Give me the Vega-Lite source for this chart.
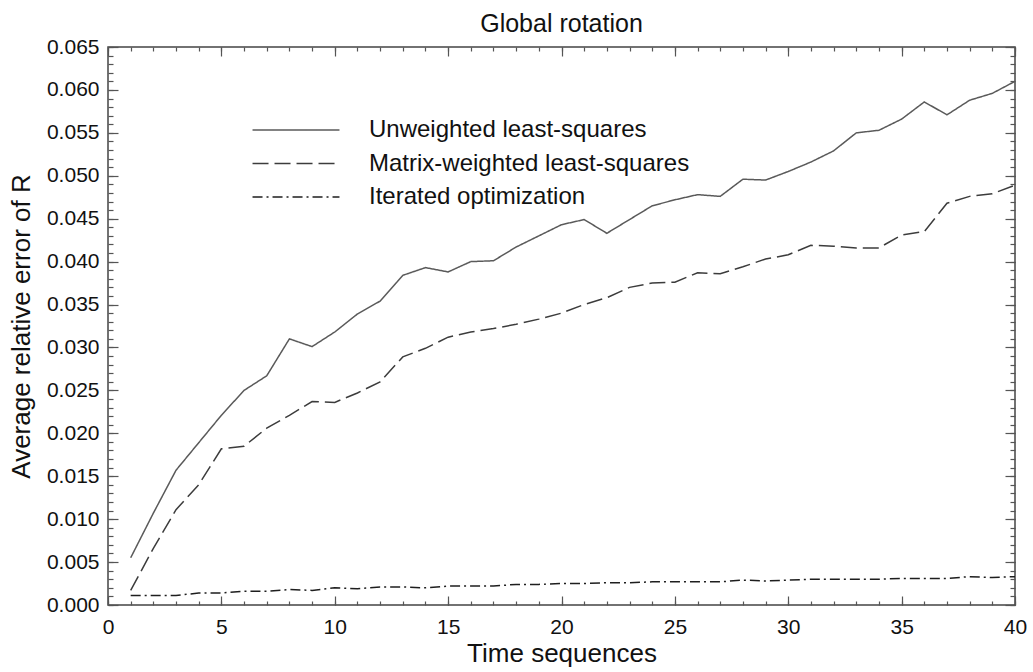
{
  "$schema": "https://vega.github.io/schema/vega-lite/v6.json",
  "autosize": {"type": "none"},
  "padding": {"left": 108, "top": 47, "right": 18, "bottom": 67},
  "width": 907,
  "height": 558,
  "background": "white",
  "title": {
    "text": "Global rotation",
    "font": "Liberation Sans",
    "fontSize": 25,
    "fontWeight": "normal",
    "color": "#111",
    "offset": -1
  },
  "data": {
    "values": [
      {"t": 1, "Unweighted least-squares": 0.0055, "Matrix-weighted least-squares": 0.0017, "Iterated optimization": 0.0011},
      {"t": 2, "Unweighted least-squares": 0.0107, "Matrix-weighted least-squares": 0.0066, "Iterated optimization": 0.0011},
      {"t": 3, "Unweighted least-squares": 0.0157, "Matrix-weighted least-squares": 0.0111, "Iterated optimization": 0.0011},
      {"t": 4, "Unweighted least-squares": 0.0189, "Matrix-weighted least-squares": 0.0140, "Iterated optimization": 0.0014},
      {"t": 5, "Unweighted least-squares": 0.0221, "Matrix-weighted least-squares": 0.0182, "Iterated optimization": 0.0014},
      {"t": 6, "Unweighted least-squares": 0.0250, "Matrix-weighted least-squares": 0.0185, "Iterated optimization": 0.0016},
      {"t": 7, "Unweighted least-squares": 0.0267, "Matrix-weighted least-squares": 0.0206, "Iterated optimization": 0.0016},
      {"t": 8, "Unweighted least-squares": 0.0310, "Matrix-weighted least-squares": 0.0221, "Iterated optimization": 0.0018},
      {"t": 9, "Unweighted least-squares": 0.0301, "Matrix-weighted least-squares": 0.0237, "Iterated optimization": 0.0017},
      {"t": 10, "Unweighted least-squares": 0.0318, "Matrix-weighted least-squares": 0.0236, "Iterated optimization": 0.0020},
      {"t": 11, "Unweighted least-squares": 0.0339, "Matrix-weighted least-squares": 0.0247, "Iterated optimization": 0.0019},
      {"t": 12, "Unweighted least-squares": 0.0354, "Matrix-weighted least-squares": 0.0260, "Iterated optimization": 0.0021},
      {"t": 13, "Unweighted least-squares": 0.0384, "Matrix-weighted least-squares": 0.0289, "Iterated optimization": 0.0021},
      {"t": 14, "Unweighted least-squares": 0.0393, "Matrix-weighted least-squares": 0.0299, "Iterated optimization": 0.0020},
      {"t": 15, "Unweighted least-squares": 0.0388, "Matrix-weighted least-squares": 0.0312, "Iterated optimization": 0.0022},
      {"t": 16, "Unweighted least-squares": 0.0400, "Matrix-weighted least-squares": 0.0318, "Iterated optimization": 0.0022},
      {"t": 17, "Unweighted least-squares": 0.0401, "Matrix-weighted least-squares": 0.0322, "Iterated optimization": 0.0022},
      {"t": 18, "Unweighted least-squares": 0.0417, "Matrix-weighted least-squares": 0.0327, "Iterated optimization": 0.0024},
      {"t": 19, "Unweighted least-squares": 0.0430, "Matrix-weighted least-squares": 0.0333, "Iterated optimization": 0.0024},
      {"t": 20, "Unweighted least-squares": 0.0443, "Matrix-weighted least-squares": 0.0340, "Iterated optimization": 0.0025},
      {"t": 21, "Unweighted least-squares": 0.0449, "Matrix-weighted least-squares": 0.0350, "Iterated optimization": 0.0025},
      {"t": 22, "Unweighted least-squares": 0.0433, "Matrix-weighted least-squares": 0.0358, "Iterated optimization": 0.0026},
      {"t": 23, "Unweighted least-squares": 0.0449, "Matrix-weighted least-squares": 0.0370, "Iterated optimization": 0.0026},
      {"t": 24, "Unweighted least-squares": 0.0465, "Matrix-weighted least-squares": 0.0375, "Iterated optimization": 0.0027},
      {"t": 25, "Unweighted least-squares": 0.0472, "Matrix-weighted least-squares": 0.0376, "Iterated optimization": 0.0027},
      {"t": 26, "Unweighted least-squares": 0.0478, "Matrix-weighted least-squares": 0.0387, "Iterated optimization": 0.0027},
      {"t": 27, "Unweighted least-squares": 0.0476, "Matrix-weighted least-squares": 0.0386, "Iterated optimization": 0.0027},
      {"t": 28, "Unweighted least-squares": 0.0496, "Matrix-weighted least-squares": 0.0394, "Iterated optimization": 0.0029},
      {"t": 29, "Unweighted least-squares": 0.0495, "Matrix-weighted least-squares": 0.0403, "Iterated optimization": 0.0028},
      {"t": 30, "Unweighted least-squares": 0.0505, "Matrix-weighted least-squares": 0.0408, "Iterated optimization": 0.0029},
      {"t": 31, "Unweighted least-squares": 0.0516, "Matrix-weighted least-squares": 0.0419, "Iterated optimization": 0.0030},
      {"t": 32, "Unweighted least-squares": 0.0529, "Matrix-weighted least-squares": 0.0418, "Iterated optimization": 0.0030},
      {"t": 33, "Unweighted least-squares": 0.0550, "Matrix-weighted least-squares": 0.0416, "Iterated optimization": 0.0030},
      {"t": 34, "Unweighted least-squares": 0.0553, "Matrix-weighted least-squares": 0.0416, "Iterated optimization": 0.0030},
      {"t": 35, "Unweighted least-squares": 0.0566, "Matrix-weighted least-squares": 0.0431, "Iterated optimization": 0.0031},
      {"t": 36, "Unweighted least-squares": 0.0586, "Matrix-weighted least-squares": 0.0435, "Iterated optimization": 0.0031},
      {"t": 37, "Unweighted least-squares": 0.0571, "Matrix-weighted least-squares": 0.0468, "Iterated optimization": 0.0031},
      {"t": 38, "Unweighted least-squares": 0.0588, "Matrix-weighted least-squares": 0.0476, "Iterated optimization": 0.0033},
      {"t": 39, "Unweighted least-squares": 0.0596, "Matrix-weighted least-squares": 0.0479, "Iterated optimization": 0.0032},
      {"t": 40, "Unweighted least-squares": 0.0610, "Matrix-weighted least-squares": 0.0489, "Iterated optimization": 0.0033}
    ]
  },
  "transform": [
    {"fold": ["Unweighted least-squares", "Matrix-weighted least-squares", "Iterated optimization"], "as": ["series", "err"]}
  ],
  "layer": [
    {
      "mark": {"type": "line", "strokeWidth": 1.5},
      "encoding": {
        "x": {
          "field": "t", "type": "quantitative",
          "scale": {"domain": [0, 40], "nice": false, "zero": false},
          "axis": {
            "orient": "bottom",
            "values": [0, 5, 10, 15, 20, 25, 30, 35, 40],
            "tickSize": -9, "labelPadding": 20, "labelFlush": false, "labelOverlap": false,
            "title": "Time sequences", "titlePadding": 3
          }
        },
        "y": {
          "field": "err", "type": "quantitative",
          "scale": {"domain": [0, 0.065], "nice": false, "zero": false},
          "axis": {
            "orient": "left",
            "values": [0, 0.005, 0.01, 0.015, 0.02, 0.025, 0.03, 0.035, 0.04, 0.045, 0.05, 0.055, 0.06, 0.065],
            "format": ".3f",
            "tickSize": -10, "labelPadding": 19, "labelFlush": false, "labelOverlap": false,
            "title": "Average relative error of R", "titlePadding": 12
          }
        },
        "color": {
          "field": "series", "type": "nominal",
          "scale": {
            "domain": ["Unweighted least-squares", "Matrix-weighted least-squares", "Iterated optimization"],
            "range": ["#5a5a5a", "#3c3c3c", "#1e1e1e"]
          },
          "legend": {"title": null, "orient": "none", "legendX": 176, "legendY": 71}
        },
        "strokeDash": {
          "field": "series", "type": "nominal",
          "scale": {
            "domain": ["Unweighted least-squares", "Matrix-weighted least-squares", "Iterated optimization"],
            "range": [[1, 0], [16, 6], [10, 4, 2, 4]]
          },
          "legend": {"title": null, "orient": "none", "legendX": 176, "legendY": 71}
        }
      }
    },
    {
      "mark": {"type": "line", "opacity": 0},
      "encoding": {
        "x": {
          "field": "t", "type": "quantitative",
          "axis": {
            "orient": "bottom",
            "values": [0, 1, 2, 3, 4, 5, 6, 7, 8, 9, 10, 11, 12, 13, 14, 15, 16, 17, 18, 19, 20, 21, 22, 23, 24, 25, 26, 27, 28, 29, 30, 31, 32, 33, 34, 35, 36, 37, 38, 39, 40],
            "tickSize": -4, "labels": false, "title": null
          }
        },
        "y": {
          "field": "err", "type": "quantitative",
          "axis": {
            "orient": "left",
            "values": [0, 0.001, 0.002, 0.003, 0.004, 0.005, 0.006, 0.007, 0.008, 0.009, 0.01, 0.011, 0.012, 0.013, 0.014, 0.015, 0.016, 0.017, 0.018, 0.019, 0.02, 0.021, 0.022, 0.023, 0.024, 0.025, 0.026, 0.027, 0.028, 0.029, 0.03, 0.031, 0.032, 0.033, 0.034, 0.035, 0.036, 0.037, 0.038, 0.039, 0.04, 0.041, 0.042, 0.043, 0.044, 0.045, 0.046, 0.047, 0.048, 0.049, 0.05, 0.051, 0.052, 0.053, 0.054, 0.055, 0.056, 0.057, 0.058, 0.059, 0.06, 0.061, 0.062, 0.063, 0.064, 0.065],
            "tickSize": -5, "labels": false, "title": null
          }
        }
      }
    },
    {
      "mark": {"type": "line", "opacity": 0},
      "encoding": {
        "x": {
          "field": "t", "type": "quantitative",
          "axis": {
            "orient": "top",
            "values": [0, 5, 10, 15, 20, 25, 30, 35, 40],
            "tickSize": -9, "labels": false, "title": null
          }
        },
        "y": {
          "field": "err", "type": "quantitative",
          "axis": {
            "orient": "right",
            "values": [0, 0.005, 0.01, 0.015, 0.02, 0.025, 0.03, 0.035, 0.04, 0.045, 0.05, 0.055, 0.06, 0.065],
            "tickSize": -10, "labels": false, "title": null
          }
        }
      }
    },
    {
      "mark": {"type": "line", "opacity": 0},
      "encoding": {
        "x": {
          "field": "t", "type": "quantitative",
          "axis": {
            "orient": "top",
            "values": [0, 1, 2, 3, 4, 5, 6, 7, 8, 9, 10, 11, 12, 13, 14, 15, 16, 17, 18, 19, 20, 21, 22, 23, 24, 25, 26, 27, 28, 29, 30, 31, 32, 33, 34, 35, 36, 37, 38, 39, 40],
            "tickSize": -4, "labels": false, "title": null
          }
        },
        "y": {
          "field": "err", "type": "quantitative",
          "axis": {
            "orient": "right",
            "values": [0, 0.001, 0.002, 0.003, 0.004, 0.005, 0.006, 0.007, 0.008, 0.009, 0.01, 0.011, 0.012, 0.013, 0.014, 0.015, 0.016, 0.017, 0.018, 0.019, 0.02, 0.021, 0.022, 0.023, 0.024, 0.025, 0.026, 0.027, 0.028, 0.029, 0.03, 0.031, 0.032, 0.033, 0.034, 0.035, 0.036, 0.037, 0.038, 0.039, 0.04, 0.041, 0.042, 0.043, 0.044, 0.045, 0.046, 0.047, 0.048, 0.049, 0.05, 0.051, 0.052, 0.053, 0.054, 0.055, 0.056, 0.057, 0.058, 0.059, 0.06, 0.061, 0.062, 0.063, 0.064, 0.065],
            "tickSize": -5, "labels": false, "title": null
          }
        }
      }
    }
  ],
  "resolve": {"axis": {"x": "independent", "y": "independent"}},
  "config": {
    "view": {"stroke": "#444", "strokeWidth": 1.5},
    "axis": {
      "domain": false,
      "grid": false,
      "tickColor": "#555",
      "tickWidth": 1.2,
      "labelFont": "Liberation Sans",
      "labelFontSize": 21,
      "labelColor": "#111",
      "titleFont": "Liberation Sans",
      "titleFontSize": 26,
      "titleFontWeight": "normal",
      "titleColor": "#111"
    },
    "legend": {
      "symbolType": "M-6,0H6",
      "symbolSize": 210,
      "symbolStrokeWidth": 1.5,
      "symbolFillColor": "transparent",
      "labelFont": "Liberation Sans",
      "labelFontSize": 24,
      "labelColor": "#111",
      "labelOffset": 61,
      "labelLimit": 0,
      "rowPadding": 9.5,
      "padding": 0
    }
  }
}
